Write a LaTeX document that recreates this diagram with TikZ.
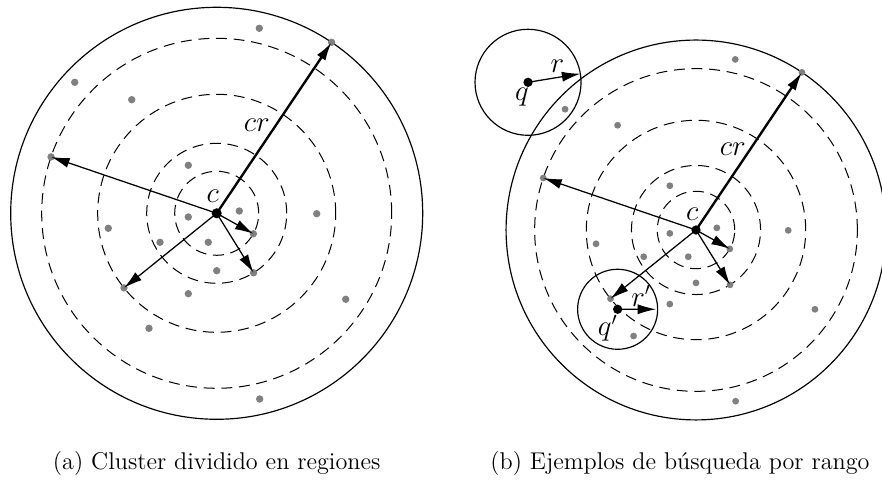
\documentclass[tikz,border=0pt]{standalone}
\usepackage{tikz}
\usetikzlibrary{arrows.meta, positioning, calc}

\newcommand{\racimo}{%
    \coordinate (c) at (0,0);
    \draw[borde] (c) circle[radius=206];
    \foreach \rr in {175,119,70,42}
        \draw[anillo] (c) circle[radius=\rr];
    \foreach \px/\py in {42.6/185, -142/131, -85/113.6, -28.4/48, 22.6/2.3,
        -28.4/-3.7, 100/-0.4, -108.4/-15, -56.7/-29, -8.4/-29, 0/-57.4,
        -28.4/-80.4, 129/-86, -67.7/-115, 43/-185.7}
        \fill[punto] (\px,\py) circle[radius=2.2pt];
    \coordinate (e1) at (-29.2:42);
    \coordinate (e2) at (-58.2:70);
    \coordinate (e3) at (-141.2:119);
    \coordinate (e4) at (161.2:175);
    \coordinate (e5) at (56.1:206);
    \foreach \e in {e1,e2,e3,e4,e5}
        \fill[punto] (\e) circle[radius=2.2pt];
    \draw[radio] (c) -- (e1);
    \draw[radio] (c) -- (e2);
    \draw[radio] (c) -- (e3);
    \draw[radio] (c) -- (e4);
    \draw[radio, line width=1.4pt] (c) -- (e5);
    \fill[centro] (c) circle[radius=3pt];
    \node[etiqueta] (lc) at (-4,17) {$c$};
    \node[etiqueta] (lcr) at (40,88) {$cr$};
}

\begin{document}
\begin{tikzpicture}[
    x=0.595pt, y=0.595pt,
    borde/.style={line width=0.7pt},
    anillo/.style={line width=0.6pt, dash pattern=on 6.5pt off 4pt},
    radio/.style={-{Latex[length=11pt,width=6pt]}, line width=0.75pt},
    punto/.style={fill=black!50},
    centro/.style={fill=black},
    etiqueta/.style={font=\fontsize{16}{18}\selectfont, inner sep=1pt},
    pie/.style={font=\fontsize{14.4}{17}\selectfont}
]
    \useasboundingbox (0,0) rectangle (882,480);

    % (a) cluster
    \begin{scope}[shift={(216.7,266.7)}, name prefix=a-]
        \racimo
    \end{scope}

    % (b) cluster con consultas
    \begin{scope}[shift={(696,250)}, scale=0.922, name prefix=b-]
        \racimo
        \coordinate (q) at (-182.2,160.2);
        \coordinate (qq) at (-85,-86);
        \draw[borde] (q) circle[radius=57.5];
        \draw[borde] (qq) circle[radius=43.4];
        \coordinate (rq) at ($(q)+(9.3:57.5)$);
        \coordinate (rqq) at ($(qq)+(0:41.7)$);
        \draw[radio] (q) -- (rq);
        \draw[radio] (qq) -- (rqq);
        \fill[centro] (q) circle[radius=3pt];
        \fill[centro] (qq) circle[radius=3pt];
        \node[etiqueta] (lq) at ($(q)+(-6.5,-15.6)$) {$q$};
        \node[etiqueta] (lr) at ($(q)+(32,17)$) {$r$};
        \node[etiqueta] (lqq) at ($(qq)+(-10.8,-20.6)$) {$q'$};
        \node[etiqueta] (lrr) at ($(qq)+(25.4,14.4)$) {$r'$};
    \end{scope}

    \node[pie] (capa) at (216.7,17) {(a) Cluster dividido en regiones};
    \node[pie] (capb) at (680,17) {(b) Ejemplos de búsqueda por rango};
\end{tikzpicture}
\end{document}
